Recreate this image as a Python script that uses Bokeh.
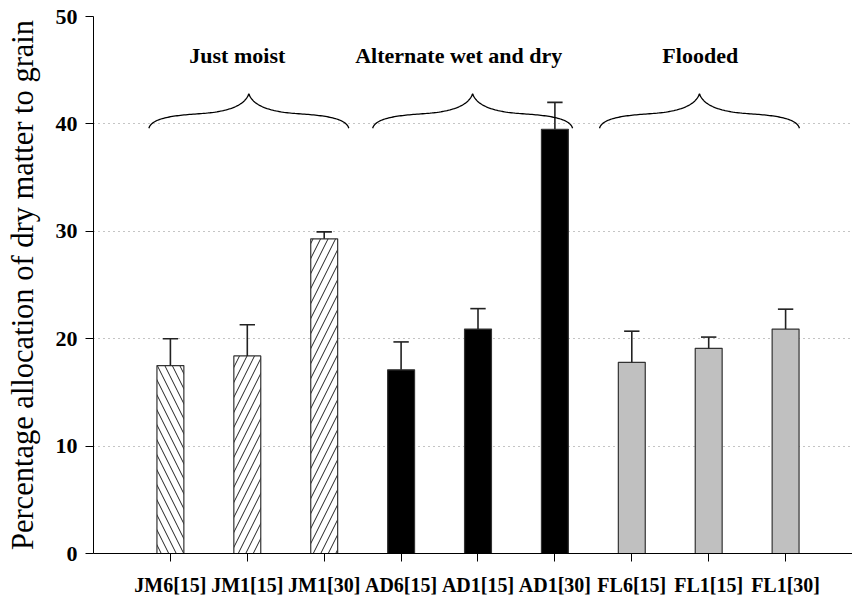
import numpy as np
from bokeh.plotting import figure
from bokeh.models import FixedTicker, Range1d, ColumnDataSource
from bokeh.embed import file_html
from bokeh.resources import INLINE
from bokeh.core.properties import value

# Treatments (water regime + seedling age / number)
categories = ["JM6[15]", "JM1[15]", "JM1[30]",
              "AD6[15]", "AD1[15]", "AD1[30]",
              "FL6[15]", "FL1[15]", "FL1[30]"]
allocation = [17.5, 18.4, 29.3, 17.1, 20.9, 39.5, 17.8, 19.1, 20.9]
std_error = [2.5, 2.9, 0.65, 2.6, 1.9, 2.5, 2.9, 1.05, 1.85]

groups = ["Just moist", "Alternate wet and dry", "Flooded"]
y_ticks = [0, 10, 20, 30, 40, 50]
grid_ticks = [10, 20, 30, 40]

FONT = "'Liberation Serif', 'Times New Roman', serif"
BAR_W = 0.35
CAP_HALF = 0.1

x = np.arange(len(categories))
tops = np.array(allocation)
errs = np.array(std_error)

p = figure(width=852, height=599, output_backend="svg", toolbar_location=None,
           x_range=Range1d(-1.0, 8.87), y_range=Range1d(0, 50),
           min_border_left=93, min_border_right=0, min_border_top=16,
           min_border_bottom=46)
p.outline_line_color = None
p.background_fill_color = "white"

# grid
p.xgrid.visible = False
p.ygrid.ticker = FixedTicker(ticks=grid_ticks)
p.ygrid.grid_line_color = "#8a8a8a"
p.ygrid.grid_line_dash = "1 4"
p.ygrid.grid_line_width = 1.2

# axes
p.yaxis.ticker = FixedTicker(ticks=y_ticks)
p.yaxis.minor_tick_line_color = None
p.yaxis.major_tick_in = 0
p.yaxis.major_tick_out = 8
p.yaxis.major_label_standoff = 8
p.yaxis.major_label_text_font = FONT
p.yaxis.major_label_text_font_style = "bold"
p.yaxis.major_label_text_font_size = "22px"
p.yaxis.major_label_text_color = "black"
p.yaxis.axis_label = "Percentage allocation of dry matter to grain"
p.yaxis.axis_label_text_font = FONT
p.yaxis.axis_label_text_font_style = "normal"
p.yaxis.axis_label_text_font_size = "30.5px"
p.yaxis.axis_label_text_color = "black"
p.yaxis.axis_label_standoff = 13
p.yaxis.axis_line_color = "black"
p.yaxis.major_tick_line_color = "black"

p.xaxis.ticker = FixedTicker(ticks=list(range(len(categories))))
p.xaxis.major_label_overrides = {i: c for i, c in enumerate(categories)}
p.xaxis.minor_tick_line_color = None
p.xaxis.major_tick_in = 0
p.xaxis.major_tick_out = 8
p.xaxis.major_label_standoff = 12
p.xaxis.major_label_text_font = FONT
p.xaxis.major_label_text_font_style = "bold"
p.xaxis.major_label_text_font_size = "20px"
p.xaxis.major_label_text_color = "black"
p.xaxis.axis_line_color = "black"
p.xaxis.major_tick_line_color = "black"

# bars: hatched (just moist), black (alternate), grey (flooded)
fills = ["white"] * 3 + ["black"] * 3 + ["#c0c0c0"] * 3
hatches = ["\\", "/", "/"] + [" "] * 6
src = ColumnDataSource(dict(x=x, top=tops, fill=fills, hatch=hatches))
p.vbar(x="x", top="top", width=BAR_W, bottom=0, source=src,
       fill_color="fill", line_color="#333333", line_width=1.2,
       hatch_pattern="hatch", hatch_color="#222222", hatch_scale=15,
       hatch_weight=1)

# upper error bars
p.segment(x0=x, y0=tops, x1=x, y1=tops + errs, line_color="#222222", line_width=1.6)
p.segment(x0=x - CAP_HALF, y0=tops + errs, x1=x + CAP_HALF, y1=tops + errs,
          line_color="#222222", line_width=1.6)


# curly braces over each group
def cubic(p0, p1, p2, p3, n=40):
    t = np.linspace(0, 1, n)[:, None]
    pts = ((1 - t) ** 3 * np.array(p0) + 3 * (1 - t) ** 2 * t * np.array(p1)
           + 3 * (1 - t) * t ** 2 * np.array(p2) + t ** 3 * np.array(p3))
    return pts[:, 0], pts[:, 1]


def brace(xc, half, y0, h):
    xs, ys = [], []
    for side in (-1, 1):
        ax, ay = cubic((0, 0), (0.03, 0.3), (0.25, 0.37), (0.5, 0.42))
        bx, by = cubic((0.5, 0.42), (0.75, 0.47), (0.95, 0.6), (1.0, 1.0))
        ux = np.concatenate([ax, bx])
        uy = np.concatenate([ay, by])
        px = xc + side * half * (1 - ux)
        py = y0 + h * uy
        if side == 1:
            px, py = px[::-1], py[::-1]
        xs.append(px)
        ys.append(py)
    return np.concatenate(xs), np.concatenate(ys)


brace_centers = [1.02, 3.93, 6.88]
for xc in brace_centers:
    bx, by = brace(xc, 1.3, 39.6, 3.2)
    p.line(bx, by, line_color="black", line_width=1.3)

label_x = [0.87, 3.75, 6.89]
p.text(x=label_x, y=[46.4] * 3, text=groups, text_align="center",
       text_baseline="alphabetic", text_font=value(FONT),
       text_font_style="bold", text_font_size="22px", text_color="black")

open("out.html", "w").write(file_html(p, INLINE))
